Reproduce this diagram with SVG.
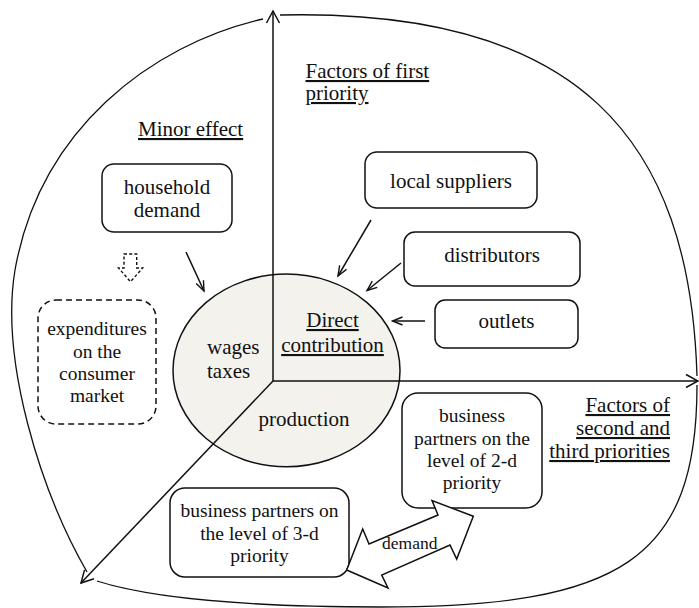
<svg xmlns="http://www.w3.org/2000/svg" width="699" height="608" viewBox="0 0 699 608">
<style>
  text { font-family: "Liberation Serif", "Times New Roman", serif; fill: #111; }
  .t21 { font-size: 21px; }
  .t19 { font-size: 19.5px; }
  .mid { text-anchor: middle; }
  .end { text-anchor: end; }
  .ul { text-decoration: underline; }
  .box { fill: #fff; stroke: #111; stroke-width: 1.5; }
  .dbox { fill: #fff; stroke: #111; stroke-width: 1.5; stroke-dasharray: 6 4; }
  .line { fill: none; stroke: #111; stroke-width: 1.5; }
  .arc { fill: none; stroke: #111; stroke-width: 1.3; }
</style>
<defs>
  <marker id="axisHead" viewBox="0 0 14 14" refX="13" refY="7" markerWidth="14" markerHeight="14" markerUnits="userSpaceOnUse" orient="auto" overflow="visible">
    <path d="M1,0.5 L13,7 L1,13.5" fill="none" stroke="#111" stroke-width="1.5"/>
  </marker>
  <marker id="smallHead" viewBox="0 0 11 9" refX="10.5" refY="4.5" markerWidth="11" markerHeight="9" markerUnits="userSpaceOnUse" orient="auto" overflow="visible">
    <path d="M0.5,0.5 L10.5,4.5 L0.5,8.5" fill="none" stroke="#111" stroke-width="1.4"/>
  </marker>
</defs>
<rect width="699" height="608" fill="#fff"/>

<g id="outline">
  <path class="arc" d="M263,19 C150,45 40,130 15,270 C0,360 40,490 87,572"/>
  <path class="arc" d="M280,15 C580,8 690,140 697,376"/>
  <path class="arc" d="M697,385 C697,560 620,607 380,607 C250,607 150,598 97,581"/>
</g>

<g id="core">
  <ellipse cx="286.5" cy="370.4" rx="113.5" ry="96.3" fill="#f4f2ed" stroke="#111" stroke-width="1.5"/>
</g>

<g id="axes">
  <line class="line" x1="273" y1="381" x2="273" y2="11" marker-end="url(#axisHead)"/>
  <line class="line" x1="273" y1="381" x2="698" y2="381" marker-end="url(#axisHead)"/>
  <line class="line" x1="273" y1="381" x2="81" y2="583" marker-end="url(#axisHead)"/>
</g>

<g id="core-labels">
  <text class="t21 mid ul" x="332.5" y="327">Direct</text>
  <text class="t21 mid ul" x="332.5" y="352">contribution</text>
  <text class="t21" x="207" y="354">wages</text>
  <text class="t21" x="207" y="378">taxes</text>
  <text class="t21 mid" x="304" y="426">production</text>
</g>

<g id="section-labels">
  <text class="t21 ul" x="138" y="136">Minor effect</text>
  <text class="t21 ul" x="305.5" y="78">Factors of first</text>
  <text class="t21 ul" x="305.5" y="100">priority</text>
  <text class="t21 end ul" x="670" y="412">Factors of</text>
  <text class="t21 end ul" x="670" y="435">second and</text>
  <text class="t21 end ul" x="670" y="458">third priorities</text>
</g>

<g id="household-demand">
  <rect class="box" x="102" y="164" width="130" height="68" rx="12"/>
  <text class="t21 mid" x="167" y="194">household</text>
  <text class="t21 mid" x="167" y="217">demand</text>
</g>

<g id="local-suppliers">
  <rect class="box" x="365" y="152" width="172" height="56" rx="12"/>
  <text class="t21 mid" x="451" y="188">local suppliers</text>
</g>

<g id="distributors">
  <rect class="box" x="404" y="232" width="176" height="54" rx="11"/>
  <text class="t21 mid" x="492" y="262">distributors</text>
</g>

<g id="outlets">
  <rect class="box" x="435" y="300" width="143" height="48" rx="10"/>
  <text class="t21 mid" x="506.5" y="328">outlets</text>
</g>

<g id="expenditures">
  <rect class="dbox" x="38" y="300" width="118" height="124" rx="18"/>
  <text class="t19 mid" x="97" y="335">expenditures</text>
  <text class="t19 mid" x="97" y="357.5">on the</text>
  <text class="t19 mid" x="97" y="380">consumer</text>
  <text class="t19 mid" x="97" y="402">market</text>
</g>

<g id="partners-2d">
  <rect class="box" x="402" y="393" width="140" height="115" rx="16"/>
  <text class="t19 mid" x="472" y="421.5">business</text>
  <text class="t19 mid" x="472" y="444.5">partners on the</text>
  <text class="t19 mid" x="472" y="466.5">level of 2-d</text>
  <text class="t19 mid" x="472" y="488.5">priority</text>
</g>

<g id="partners-3d">
  <rect class="box" x="170" y="488" width="179" height="89" rx="15"/>
  <text class="t19 mid" x="259.5" y="516.5">business partners on</text>
  <text class="t19 mid" x="259.5" y="539.5">the level of 3-d</text>
  <text class="t19 mid" x="259.5" y="561.5">priority</text>
</g>

<g id="connectors">
  <line class="line" x1="186" y1="252" x2="204" y2="291" marker-end="url(#smallHead)"/>
  <line class="line" x1="371" y1="220" x2="338" y2="276" marker-end="url(#smallHead)"/>
  <line class="line" x1="401" y1="263" x2="367" y2="290.5" marker-end="url(#smallHead)"/>
  <line class="line" x1="425" y1="321" x2="392.5" y2="321" marker-end="url(#smallHead)"/>
  <path d="M124,254 L136.7,254 L136.7,268 L142.7,268 L130.5,281.7 L118.5,268 L124,268 Z" fill="#fff" stroke="#111" stroke-width="1.4" stroke-dasharray="3 2.2"/>
  <path d="M346.7,570 L362.7,529 L369,544 L438,515 L432,500.5 L473.3,516.3 L456.7,559 L450,545 L381.7,575 L388,588 Z" fill="#fff" stroke="#111" stroke-width="1.5" stroke-linejoin="miter"/>
  <text x="382" y="548.5" style="font-size:17.5px">demand</text>
</g>
</svg>
